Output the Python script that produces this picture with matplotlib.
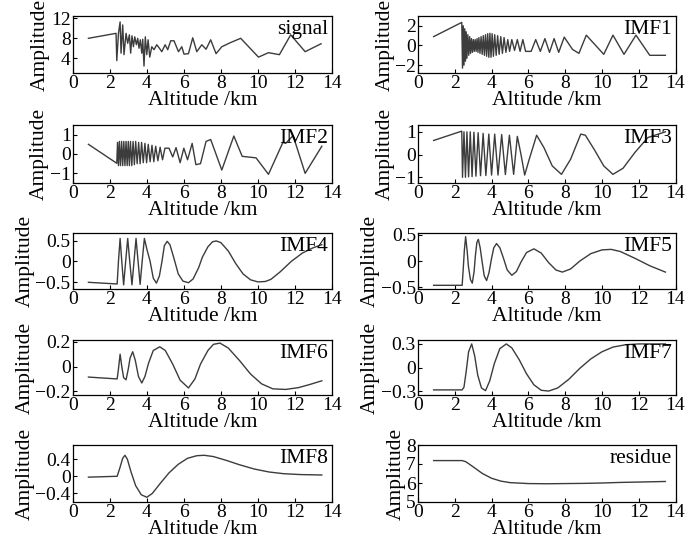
import matplotlib
matplotlib.use("Agg")
import matplotlib.pyplot as plt

plt.rcParams['font.family'] = ['Liberation Serif', 'DejaVu Serif']
plt.rcParams['axes.unicode_minus'] = True

# --- dane (wysokosc km, amplituda) ---
signal_x = [0.85, 2.34, 2.38, 2.47, 2.56, 2.61, 2.70, 2.77, 2.88, 2.97, 3.06, 3.13, 3.20, 3.28,
            3.35, 3.44, 3.51, 3.58, 3.65, 3.73, 3.78, 3.85, 3.92, 4.00, 4.07, 4.16, 4.27, 4.39,
            4.54, 4.68, 4.81, 4.99, 5.13, 5.29, 5.47, 5.71, 5.89, 6.01, 6.25, 6.48, 6.70, 6.97,
            7.20, 7.45, 7.74, 8.05, 8.50, 9.07, 10.03, 10.57, 11.16, 11.77, 12.55, 13.41]
signal_y = [8.0, 9.0, 3.5, 9.0, 11.3, 5.0, 10.7, 4.7, 9.0, 7.0, 8.7, 5.0, 8.5, 6.3,
            8.3, 6.7, 8.0, 6.0, 7.7, 5.0, 7.8, 2.4, 8.3, 4.7, 7.7, 4.2, 6.3, 5.7,
            6.7, 6.0, 5.3, 6.7, 5.7, 7.5, 7.5, 5.3, 6.3, 4.8, 4.9, 8.1, 5.3, 6.7,
            5.8, 7.7, 4.9, 6.3, 7.1, 8.0, 4.2, 5.1, 4.7, 8.7, 5.3, 6.9]

imf1_x = [0.85, 2.38, 2.42, 2.46, 2.50, 2.54, 2.58, 2.62, 2.66, 2.71, 2.76, 2.81, 2.86, 2.91,
          2.96, 3.01, 3.06, 3.11, 3.16, 3.21, 3.26, 3.31, 3.37, 3.43, 3.49, 3.55, 3.61, 3.67,
          3.73, 3.79, 3.85, 3.91, 3.97, 4.03, 4.10, 4.17, 4.25, 4.33, 4.41, 4.50, 4.59, 4.68,
          4.78, 4.88, 4.98, 5.10, 5.25, 5.40, 5.55, 5.70, 5.85, 6.15, 6.40, 6.65, 6.90, 7.15,
          7.40, 7.65, 7.95, 8.40, 8.75, 9.15, 10.10, 10.60, 11.20, 11.85, 12.60, 13.45]
imf1_y = [0.9, 2.35, -2.3, 2.0, -2.0, 1.7, -1.6, 1.4, -1.3, 1.1, -1.0, 0.9, -0.8, 0.7,
          -0.7, 0.6, -0.6, 0.6, -0.6, 0.7, -0.7, 0.8, -0.8, 0.9, -0.9, 1.0, -1.0, 1.1,
          -1.1, 1.2, -1.2, 1.25, -1.2, 1.2, -1.1, 1.1, -1.0, 1.0, -0.9, 0.9, -0.8, 0.8,
          -0.7, 0.6, -0.6, 0.6, -0.5, 0.6, -0.6, 0.6, -0.6, -0.6, 0.6, -0.6, 0.7, -0.7,
          0.7, -0.7, 0.85, -0.4, -0.8, 1.05, -0.9, 1.05, -0.9, 1.05, -1.0, -1.0]

imf2_x = [0.85, 2.38, 2.42, 2.47, 2.52, 2.58, 2.64, 2.70, 2.76, 2.82, 2.88, 2.94, 3.00, 3.06,
          3.12, 3.19, 3.26, 3.33, 3.40, 3.48, 3.56, 3.64, 3.72, 3.81, 3.90, 3.99, 4.08, 4.18,
          4.28, 4.38, 4.48, 4.60, 4.72, 4.85, 4.98, 5.20, 5.40, 5.58, 5.80, 6.00, 6.20, 6.45,
          6.65, 6.90, 7.20, 7.45, 8.05, 8.70, 9.15, 9.90, 10.57, 11.35, 11.50, 11.90, 12.55, 13.45]
imf2_y = [0.5, -0.48, 0.6, -0.6, 0.65, -0.6, 0.65, -0.6, 0.65, -0.6, 0.65, -0.6, 0.65, -0.6,
          0.65, -0.6, 0.65, -0.55, 0.65, -0.5, 0.6, -0.5, 0.6, -0.45, 0.55, -0.45, 0.5, -0.4,
          0.45, -0.4, 0.4, -0.35, 0.35, -0.3, 0.3, 0.3, -0.15, 0.33, -0.45, 0.3, -0.3, 0.55,
          -0.55, -0.5, 0.65, 0.75, -0.83, 0.93, -0.12, -0.2, -1.05, 0.6, 0.55, 0.95, -1.0, 0.4]

imf3_x = [0.85, 2.38, 2.42, 2.50, 2.58, 2.66, 2.75, 2.84, 2.94, 3.04, 3.15, 3.27, 3.40, 3.54,
          3.69, 3.85, 4.00, 4.17, 4.35, 4.55, 4.75, 4.97, 5.20, 5.40, 5.60, 5.80, 6.05, 6.45,
          6.85, 7.30, 7.80, 8.30, 8.85, 9.10, 9.60, 10.10, 10.60, 11.15, 11.80, 12.50, 13.45]
imf3_y = [0.62, 1.03, -1.0, 1.0, -1.0, 1.0, -0.98, 1.0, -0.97, 0.98, -0.95, 0.96, -0.93, 0.93,
          -0.92, 0.9, -0.9, 0.9, -0.9, 0.88, -0.88, 0.85, -0.87, 0.8, 0.0, -0.9, -0.2, 0.85,
          0.3, -0.5, -0.87, -0.2, 0.9, 0.85, 0.2, -0.5, -0.87, -0.6, 0.1, 0.75, 1.0]

imf4_x = [0.85, 2.40, 2.47, 2.56, 2.65, 2.75, 2.86, 2.97, 3.08, 3.20, 3.31, 3.42, 3.53, 3.64,
          3.75, 3.87, 4.00, 4.18, 4.35, 4.52, 4.68, 4.82, 4.95, 5.10, 5.25, 5.45, 5.70, 5.95,
          6.25, 6.50, 6.80, 7.00, 7.30, 7.55, 7.75, 8.00, 8.40, 8.80, 9.20, 9.60, 10.00, 10.40,
          10.70, 11.20, 11.80, 12.40, 13.00, 13.45]
imf4_y = [-0.5, -0.54, 0.0, 0.55, 0.0, -0.56, 0.0, 0.55, 0.0, -0.56, 0.0, 0.55, 0.0, -0.55,
          0.0, 0.55, 0.3, 0.0, -0.4, -0.52, -0.35, 0.0, 0.38, 0.48, 0.4, 0.1, -0.3, -0.47,
          -0.51, -0.42, -0.15, 0.1, 0.35, 0.47, 0.49, 0.45, 0.25, -0.05, -0.3, -0.44, -0.49, -0.48,
          -0.43, -0.25, 0.0, 0.2, 0.33, 0.4]

imf5_x = [0.85, 2.40, 2.45, 2.52, 2.59, 2.67, 2.74, 2.85, 2.95, 3.05, 3.12, 3.20, 3.28, 3.38,
          3.48, 3.60, 3.73, 3.86, 4.00, 4.12, 4.27, 4.45, 4.65, 4.85, 5.10, 5.35, 5.60, 5.90,
          6.30, 6.70, 7.10, 7.50, 7.85, 8.30, 8.80, 9.40, 10.00, 10.50, 11.00, 11.80, 12.60, 13.45]
imf5_y = [-0.46, -0.46, -0.2, 0.2, 0.46, 0.2, -0.1, -0.35, -0.42, -0.2, 0.1, 0.35, 0.41, 0.25,
          0.0, -0.28, -0.37, -0.22, 0.05, 0.25, 0.33, 0.25, 0.05, -0.17, -0.27, -0.2, -0.02, 0.16,
          0.23, 0.15, -0.03, -0.17, -0.21, -0.15, 0.0, 0.14, 0.21, 0.22, 0.18, 0.05, -0.09, -0.21]

imf6_x = [0.85, 2.40, 2.47, 2.56, 2.65, 2.75, 2.88, 3.00, 3.10, 3.24, 3.38, 3.55, 3.73, 3.90,
          4.10, 4.35, 4.70, 5.00, 5.40, 5.80, 6.25, 6.60, 6.90, 7.30, 7.60, 7.95, 8.40, 9.00,
          9.60, 10.20, 10.80, 11.50, 12.20, 12.80, 13.45]
imf6_y = [-0.085, -0.1, -0.02, 0.1, 0.0, -0.09, -0.107, -0.02, 0.07, 0.12, 0.05, -0.08, -0.133, -0.08,
          0.03, 0.13, 0.16, 0.13, 0.02, -0.11, -0.173, -0.1, 0.02, 0.13, 0.18, 0.19, 0.15, 0.05,
          -0.06, -0.14, -0.18, -0.185, -0.17, -0.145, -0.115]

imf7_x = [0.85, 2.40, 2.50, 2.62, 2.75, 2.92, 3.08, 3.25, 3.45, 3.67, 3.90, 4.15, 4.45, 4.80,
          5.10, 5.50, 5.90, 6.30, 6.70, 7.10, 7.60, 8.20, 8.80, 9.40, 10.00, 10.60, 11.30, 12.00,
          12.80, 13.45]
imf7_y = [-0.285, -0.285, -0.25, -0.05, 0.2, 0.3, 0.15, -0.1, -0.26, -0.295, -0.17, 0.05, 0.24, 0.3,
          0.25, 0.1, -0.08, -0.22, -0.29, -0.3, -0.26, -0.15, -0.01, 0.11, 0.2, 0.26, 0.29, 0.3,
          0.3, 0.3]

imf8_x = [0.85, 2.40, 2.55, 2.70, 2.82, 2.95, 3.15, 3.40, 3.70, 4.00, 4.30, 4.70, 5.20, 5.70,
          6.20, 6.70, 7.10, 7.60, 8.30, 9.00, 9.80, 10.60, 11.40, 12.30, 13.45]
imf8_y = [-0.02, 0.0, 0.2, 0.42, 0.49, 0.4, 0.1, -0.22, -0.43, -0.49, -0.4, -0.18, 0.08, 0.28,
          0.42, 0.48, 0.49, 0.46, 0.37, 0.27, 0.17, 0.1, 0.06, 0.04, 0.03]

residue_x = [0.85, 2.40, 2.60, 3.00, 3.50, 4.00, 4.50, 5.00, 6.00, 7.00, 8.00, 9.00, 10.00,
             11.00, 12.00, 13.45]
residue_y = [7.18, 7.18, 7.12, 6.85, 6.5, 6.25, 6.1, 6.02, 5.97, 5.96, 5.97, 5.98, 6.0,
             6.03, 6.05, 6.08]

names = ['signal', 'IMF1', 'IMF2', 'IMF3', 'IMF4', 'IMF5', 'IMF6', 'IMF7', 'IMF8', 'residue']
xs = [signal_x, imf1_x, imf2_x, imf3_x, imf4_x, imf5_x, imf6_x, imf7_x, imf8_x, residue_x]
ys = [signal_y, imf1_y, imf2_y, imf3_y, imf4_y, imf5_y, imf6_y, imf7_y, imf8_y, residue_y]
ylims = [(1, 12.5), (-2.8, 3.0), (-1.5, 1.5), (-1.25, 1.3), (-0.66, 0.68),
         (-0.53, 0.53), (-0.23, 0.215), (-0.35, 0.35), (-0.6, 0.73), (5, 8)]
yticks = [[4, 8, 12], [-2, 0, 2], [-1, 0, 1], [-1, 0, 1], [-0.5, 0, 0.5],
          [-0.5, 0, 0.5], [-0.2, 0, 0.2], [-0.3, 0, 0.3], [-0.4, 0, 0.4], [5, 6, 7, 8]]
xticks = [0, 2, 4, 6, 8, 10, 12, 14]


def fmt(v):
    s = ('%g' % v)
    return s.replace('-', '\u2212')


fig = plt.figure(figsize=(6.85, 5.43), dpi=100)

# pozycje paneli w pikselach (gora, dol)
rows = [(16, 73), (125, 183), (233, 289), (340, 395), (445, 502)]
cols = [(72.7, 332), (418, 675.5)]
W, H = 685.0, 543.0

for i in range(10):
    r, c = i // 2, i % 2
    top, bot = rows[r]
    left, right = cols[c]
    ax = fig.add_axes([left / W, 1 - bot / H, (right - left) / W, (bot - top) / H])
    ax.plot(xs[i], ys[i], color='#3c3c3c', lw=1.0)
    ax.set_xlim(0, 14)
    ax.set_ylim(*ylims[i])
    ax.set_xticks(xticks)
    ax.set_xticklabels([fmt(t) for t in xticks])
    ax.set_yticks(yticks[i])
    ax.set_yticklabels([fmt(t) for t in yticks[i]])
    ax.tick_params(direction='in', length=3, labelsize=14, pad=1.5, width=0.8)
    ax.set_xlabel('Altitude /km', fontsize=15.5, labelpad=-1)
    ax.set_ylabel('Amplitude', fontsize=15.5, labelpad=0.5)
    ax.text(0.985, 0.93, names[i], transform=ax.transAxes, ha='right', va='top', fontsize=15.5)
    for sp in ax.spines.values():
        sp.set_linewidth(0.9)

fig.savefig('out.png', dpi=100)
